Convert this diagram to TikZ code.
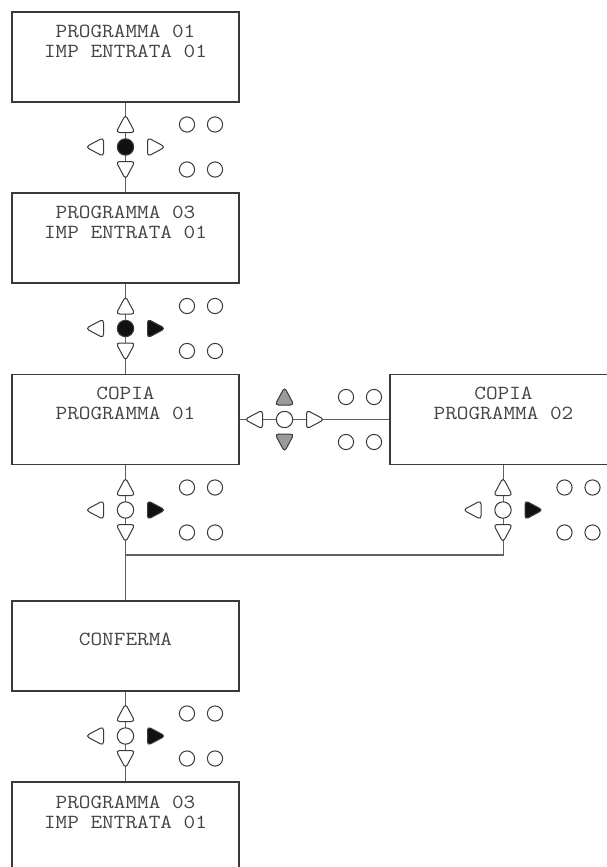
\documentclass[tikz,border=0pt]{standalone}
\usepackage{fontspec}
\usepackage{graphicx}
\usetikzlibrary{calc}
\definecolor{ln}{HTML}{606060}
\definecolor{bx}{HTML}{3A3A3A}
\definecolor{tx}{HTML}{444444}
\definecolor{gy}{HTML}{9A9A9A}
\definecolor{bk}{HTML}{111111}
\newcommand\sx[1]{\scalebox{1.13}[1]{#1}}
\tikzset{
 box/.style={draw=bx, line width=1.2pt, minimum width=227pt, minimum height=90pt, inner sep=0pt},
 lbl/.style={text=tx, font=\ttfamily\fontsize{20}{20}\selectfont, align=center, inner sep=0pt},
 wire/.style={draw=ln, line width=1.2pt},
 padshape/.style={draw=bx, line width=1pt, rounded corners=3.5pt},
 padring/.style={draw=bx, line width=1pt},
}
% #1 x, #2 y, #3 up fill, #4 down fill, #5 centre fill, #6 right fill
\newcommand\pad[6]{%
 \draw[padshape,fill=#3] ({#1},{#2-22.5-9.8}) -- ({#1+9.5},{#2-22.5+8}) -- ({#1-9.5},{#2-22.5+8}) -- cycle;
 \draw[padshape,fill=#4] ({#1},{#2+22.5+9.8}) -- ({#1+9.5},{#2+22.5-8}) -- ({#1-9.5},{#2+22.5-8}) -- cycle;
 \draw[padshape,fill=white] ({#1-30-9.8},{#2}) -- ({#1-30+8},{#2-9.5}) -- ({#1-30+8},{#2+9.5}) -- cycle;
 \draw[padshape,fill=#6] ({#1+30+9.8},{#2}) -- ({#1+30-8},{#2-9.5}) -- ({#1+30-8},{#2+9.5}) -- cycle;
 \draw[padring,fill=#5] ({#1},{#2}) circle[radius=8.2];
 \foreach \dx in {61.5,89.5}{\foreach \dy in {-22.5,22.5}{%
   \draw[padring] ({#1+\dx},{#2+\dy}) circle[radius=7.6];}}%
}
\begin{document}
\begin{tikzpicture}[x=1pt,y=-1pt]
\clip (0,0) rectangle (607,867);
\fill[white] (0,0) rectangle (607,867);
\node[box] (b1) at (125.5,57) {};
\node[box] (b2) at (125.5,238) {};
\node[box] (b3) at (125.5,419.5) {};
\node[box] (b4) at (503.5,419.5) {};
\node[box] (b5) at (125.5,646) {};
\node[box] (b6) at (125.5,827) {};
\coordinate (j) at (125.5,555);
\draw[wire] (b1.south) -- (b2.north);
\draw[wire] (b2.south) -- (b3.north);
\draw[wire] (b3.east) -- (b4.west);
\draw[wire] (b3.south) -- (b5.north);
\draw[wire] (b4.south) |- (j);
\draw[wire] (b5.south) -- (b6.north);
\node[lbl] (t1) at ($(b1.north)+(0,30)$) {\sx{PROGRAMMA 01}\\\sx{IMP ENTRATA 01}};
\node[lbl] (t2) at ($(b2.north)+(0,30)$) {\sx{PROGRAMMA 03}\\\sx{IMP ENTRATA 01}};
\node[lbl] (t3) at ($(b3.north)+(0,29)$) {\sx{COPIA}\\\sx{PROGRAMMA 01}};
\node[lbl] (t4) at ($(b4.north)+(0,29)$) {\sx{COPIA}\\\sx{PROGRAMMA 02}};
\node[lbl] (t5) at ($(b5.north)+(0,39)$) {\sx{CONFERMA}};
\node[lbl] (t6) at ($(b6.north)+(0,31)$) {\sx{PROGRAMMA 03}\\\sx{IMP ENTRATA 01}};
\pad{125.5}{147}{white}{white}{bk}{white}
\pad{125.5}{328.5}{white}{white}{bk}{bk}
\pad{284.5}{419.5}{gy}{gy}{white}{white}
\pad{125.5}{510}{white}{white}{white}{bk}
\pad{503}{510}{white}{white}{white}{bk}
\pad{125.5}{736}{white}{white}{white}{bk}
\end{tikzpicture}
\end{document}
